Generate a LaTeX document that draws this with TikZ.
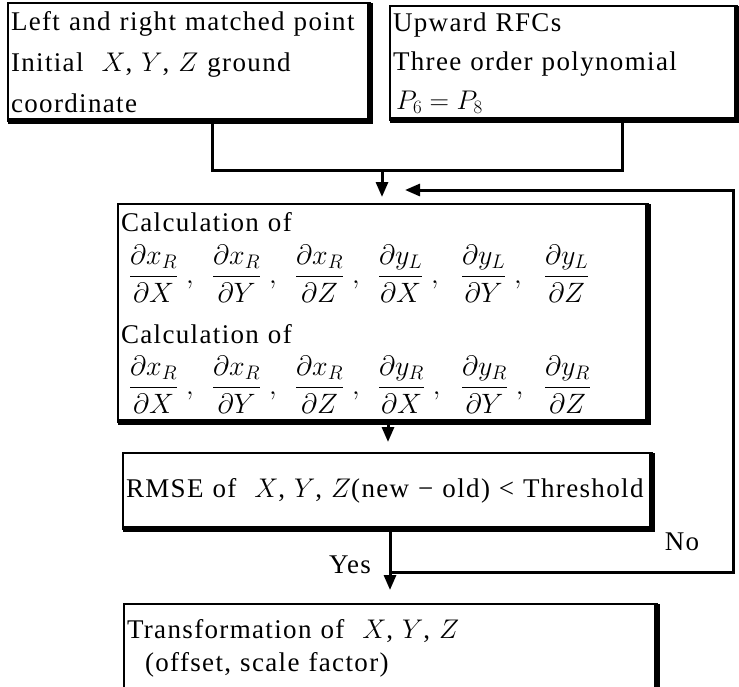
\documentclass[tikz,border=0pt]{standalone}
\usepackage{fix-cm}
\usepackage{amsmath}
\usepackage{fontspec}
\setmainfont{Liberation Serif}[LetterSpace=5]
\usetikzlibrary{arrows.meta,calc}
\newcommand{\pfr}[2]{\makebox[83pt][l]{$\dfrac{\partial #1}{\partial #2}\;,$}}
\newcommand{\pfrl}[2]{\makebox[60pt][l]{$\dfrac{\partial #1}{\partial #2}$}}
\newcommand{\fracrow}[1]{{\fontsize{28}{48.5}\selectfont\hspace*{8pt}#1}}
\tikzset{
  box/.style={draw, line width=2.5pt, anchor=north west, align=left, inner xsep=2pt, inner ysep=0pt, outer sep=0pt, font=\fontsize{27}{41}\selectfont},
  conn/.style={line width=3pt, line join=miter},
  arr/.style={conn, -{Triangle[width=12pt,length=15pt]}},
  shadeedge/.style={line width=6pt},
  lbl/.style={font=\fontsize{27}{30}\selectfont, inner sep=0pt}
}
\begin{document}
\begin{tikzpicture}[x=1pt,y=-1pt]
\useasboundingbox (0,0) rectangle (739,686);
% boxes
\node[box, minimum width=362pt, minimum height=118pt, text width=356pt] (b1) at (8,3)
  {Left and right matched point\\Initial \ $X$, $Y$, $Z$ ground\\coordinate};
\node[box, minimum width=347pt, minimum height=114pt, text width=341pt,
      font=\fontsize{27}{39}\selectfont] (b2) at (390,6)
  {Upward RFCs\\Three order polynomial\\\hspace*{3pt}$P_6 = P_8$};
\node[box, minimum width=530pt, minimum height=218pt, text width=524pt,
      font=\fontsize{27}{48.5}\selectfont] (calc) at (118,204)
  {Calculation of\\[4pt]
   \fracrow{\pfr{x_R}{X}\pfr{x_R}{Y}\pfr{x_R}{Z}\pfr{y_L}{X}\pfr{y_L}{Y}\pfrl{y_L}{Z}}\\[11pt]
   Calculation of\\[3pt]
   \fracrow{\pfr{x_R}{X}\pfr{x_R}{Y}\pfr{x_R}{Z}\pfr{y_R}{X}\pfr{y_R}{Y}\pfrl{y_R}{Z}}};
\node[box, minimum width=529pt, minimum height=76pt, text width=523pt] (rmse) at (123,453)
  {RMSE of \ $X$, $Y$, $Z$(new − old) < Threshold};
\node[box, minimum width=533pt, minimum height=89pt, text width=527pt,
      font=\fontsize{27}{33}\selectfont] (trans) at (124,604)
  {Transformation of \ $X$, $Y$, $Z$\\\hspace*{18pt}(offset, scale factor)};
\foreach \n in {b1,b2,calc,rmse,trans}{
  \draw[shadeedge] (\n.north east) -- (\n.south east) -- (\n.south west);
}
% connectors
\coordinate (m1) at (212,170);
\coordinate (m2) at (622,170);
\coordinate (m3) at (382,170);
\draw[conn] (b1.south -| m1) -- (m1) -- (m2) -- (b2.south -| m2);
\draw[arr, shorten >=7pt] (m3) -- (calc.north -| m3);
\coordinate (d1) at (388,420);
\draw[arr, shorten >=11pt] (calc.south -| d1) -- (rmse.north -| d1);
\coordinate (f1) at (390,572);
\coordinate (f2) at (733,572);
\coordinate (f3) at (733,190);
\coordinate (f4) at (405,190);
\draw[arr, shorten >=14pt] (rmse.south -| f1) -- (trans.north -| f1);
\draw[arr] (f1) -- (f2) -- (f3) -- (f4);
\node[lbl] (yes) at (350,565) {Yes};
\node[lbl] (no) at (682,542) {No};
\end{tikzpicture}
\end{document}
